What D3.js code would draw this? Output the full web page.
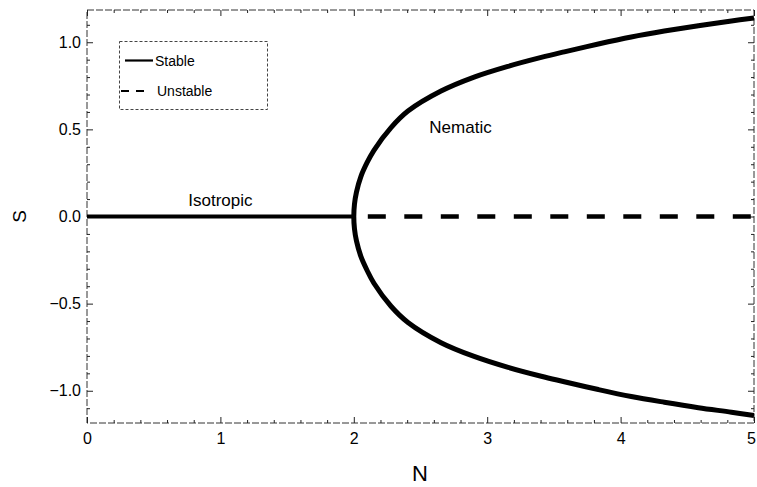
<!DOCTYPE html>
<html>
<head>
<meta charset="utf-8">
<script src="https://cdn.jsdelivr.net/npm/d3@7"></script>
<style>
  html, body { margin: 0; padding: 0; background: #fff; }
  svg { display: block; }
  text { font-family: "Liberation Sans", Arial, Helvetica, sans-serif; fill: #000; }
</style>
</head>
<body>
<svg id="chart" width="757" height="487"></svg>
<script>
// Order parameter S versus N: isotropic branch, stable nematic branches, unstable branch
const isoN = [0, 2];
const isoS = [0, 0];

const upperN = [2.0, 2.005, 2.02, 2.053, 2.10, 2.151, 2.279, 2.406, 2.654, 2.902, 3.157, 3.405, 3.578, 3.833, 4.08, 4.328, 4.583, 4.831, 5.0];
const upperS = [0, 0.07, 0.14, 0.229, 0.31, 0.38, 0.51, 0.605, 0.72, 0.80, 0.862, 0.913, 0.945, 0.99, 1.03, 1.064, 1.095, 1.122, 1.139];

const lowerN = [2.0, 2.005, 2.02, 2.053, 2.10, 2.151, 2.279, 2.406, 2.654, 2.902, 3.157, 3.405, 3.578, 3.833, 4.08, 4.328, 4.583, 4.831, 5.0];
const lowerS = [0, -0.07, -0.14, -0.229, -0.31, -0.383, -0.515, -0.608, -0.724, -0.803, -0.866, -0.917, -0.948, -0.993, -1.033, -1.066, -1.097, -1.123, -1.142];

const unstableN = [2, 5];
const unstableS = [0, 0];

const xMajor = [0, 1, 2, 3, 4, 5];
const xMajorLabels = ["0", "1", "2", "3", "4", "5"];
const yMajor = [-1.0, -0.5, 0.0, 0.5, 1.0];
const yMajorLabels = ["\u22121.0", "\u22120.5", "0.0", "0.5", "1.0"];

const legendLabels = ["Stable", "Unstable"];
const regionLabels = ["Isotropic", "Nematic"];

const svg = d3.select("#chart");
const plotL = 87, plotR = 754, plotT = 10, plotB = 423;

const x = d3.scaleLinear().domain([0, 5]).range([plotL, plotR]);
const y = d3.scaleLinear().domain([-1.185, 1.185]).range([plotB, plotT]);

const xMinor = d3.range(0, 5.0001, 0.2).filter(v => Math.abs(v - Math.round(v)) > 1e-6);
const yMinor = d3.range(-1.1, 1.1001, 0.1).filter(v => Math.abs(v * 2 - Math.round(v * 2)) > 1e-6);

// frame
const frame = svg.append("g").attr("fill", "none").attr("stroke", "#333").attr("stroke-width", 1)
  .attr("stroke-dasharray", "7,2");
frame.append("rect").attr("x", plotL).attr("y", plotT).attr("width", plotR - plotL).attr("height", plotB - plotT);

// inward ticks on all four sides
function tickGroup(axisFn, scale, vals, size, transform, labels, pad) {
  const ax = axisFn(scale).tickValues(vals).tickSizeInner(-size).tickSizeOuter(0);
  if (labels) ax.tickFormat((d, i) => labels[i]).tickPadding(pad);
  else ax.tickFormat("");
  const g = svg.append("g").attr("transform", transform).call(ax);
  g.select(".domain").remove();
  g.selectAll(".tick line").attr("stroke", "#222").attr("stroke-width", 1);
  g.selectAll(".tick text").attr("font-size", 16).attr("font-family", "'Liberation Sans', Arial, sans-serif").attr("fill", "#000");
  return g;
}
const bottomAxis = tickGroup(d3.axisBottom, x, xMajor, 6, `translate(0,${plotB})`, xMajorLabels, 10);
bottomAxis.selectAll(".tick text").filter(d => d === 5).attr("dx", -3);
tickGroup(d3.axisBottom, x, xMinor, 3, `translate(0,${plotB})`);
tickGroup(d3.axisTop, x, xMajor, 6, `translate(0,${plotT})`);
tickGroup(d3.axisTop, x, xMinor, 3, `translate(0,${plotT})`);
tickGroup(d3.axisLeft, y, yMajor, 6, `translate(${plotL},0)`, yMajorLabels, 6);
tickGroup(d3.axisLeft, y, yMinor, 3, `translate(${plotL},0)`);
tickGroup(d3.axisRight, y, yMajor, 6, `translate(${plotR},0)`);
tickGroup(d3.axisRight, y, yMinor, 3, `translate(${plotR},0)`);

const line = d3.line().x(d => x(d[0])).y(d => y(d[1]));

// isotropic branch
svg.append("path")
  .datum(isoN.map((n, i) => [n, isoS[i]]))
  .attr("d", line).attr("fill", "none").attr("stroke", "#000").attr("stroke-width", 4);

// unstable branch
svg.append("path")
  .datum(unstableN.map((n, i) => [n, unstableS[i]]))
  .attr("d", line).attr("fill", "none").attr("stroke", "#000").attr("stroke-width", 4.5)
  .attr("stroke-dasharray", "18,18.5").attr("stroke-dashoffset", -14);

// stable nematic branches, traced from the lower end through the bifurcation to the upper end
const nematic = lowerN.map((n, i) => [n, lowerS[i]]).reverse()
  .concat(upperN.slice(1).map((n, i) => [n, upperS[i + 1]]));
svg.append("path")
  .datum(nematic)
  .attr("d", d3.line().x(d => x(d[0])).y(d => y(d[1])).curve(d3.curveCatmullRom.alpha(0.5)))
  .attr("fill", "none").attr("stroke", "#000").attr("stroke-width", 5);

// region labels
svg.append("text").attr("x", x(1.0)).attr("y", y(0.06)).attr("text-anchor", "middle")
  .attr("font-size", 17).text(regionLabels[0]);
svg.append("text").attr("x", x(2.80)).attr("y", y(0.48)).attr("text-anchor", "middle")
  .attr("font-size", 17).text(regionLabels[1]);

// legend
const lg = svg.append("g");
lg.append("rect").attr("x", 119.5).attr("y", 41.5).attr("width", 148).attr("height", 68)
  .attr("fill", "#fff").attr("stroke", "#444").attr("stroke-width", 1).attr("stroke-dasharray", "3,2");
lg.append("line").attr("x1", 125).attr("x2", 153).attr("y1", 60.5).attr("y2", 60.5)
  .attr("stroke", "#000").attr("stroke-width", 2.2);
lg.append("line").attr("x1", 121).attr("x2", 146).attr("y1", 91).attr("y2", 91)
  .attr("stroke", "#000").attr("stroke-width", 2.2).attr("stroke-dasharray", "8,7");
lg.append("text").attr("x", 155).attr("y", 65.5).attr("font-size", 14).text(legendLabels[0]);
lg.append("text").attr("x", 157).attr("y", 96).attr("font-size", 14).text(legendLabels[1]);

// axis titles
svg.append("text").attr("x", 420).attr("y", 481).attr("text-anchor", "middle")
  .attr("font-size", 22).text("N");
svg.append("text").attr("transform", `translate(26,${y(0)}) rotate(-90)`).attr("text-anchor", "middle")
  .attr("font-size", 19).text("S");
</script>
</body>
</html>
